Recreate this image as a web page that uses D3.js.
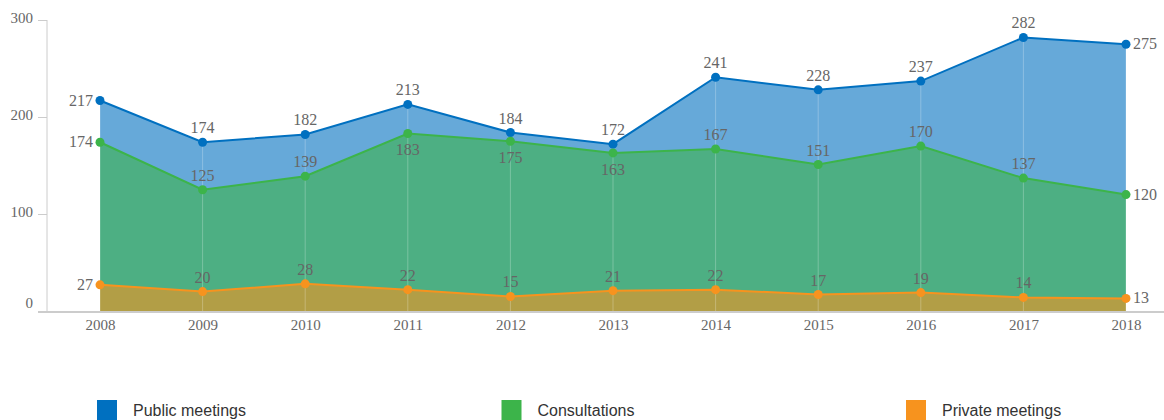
<!DOCTYPE html>
<head>
<meta charset="utf-8">
<style>
body { margin: 0; background: #fff; }
svg { display: block; }
.tick text, .val { font-family: "Liberation Serif", "DejaVu Serif", serif; fill: #666; }
.legend text { font: 16px "Liberation Sans", Arial, sans-serif; fill: #333; }
</style>
</head>
<body>
<script src="https://d3js.org/d3.v7.min.js"></script>
<script>
  // data
  var years = ["2008","2009","2010","2011","2012","2013","2014","2015","2016","2017","2018"];
  var publicMeetings = [217, 174, 182, 213, 184, 172, 241, 228, 237, 282, 275];
  var consultations  = [174, 125, 139, 183, 175, 163, 167, 151, 170, 137, 120];
  var privateMeetings = [27, 20, 28, 22, 15, 21, 22, 17, 19, 14, 13];
  var yTicks = [0, 100, 200, 300];

  // label position for each consultations point
  var consultPos = ["left","up","up","down","down","down","up","up","up","up","right"];

  var series = [
    { name: "Public meetings", values: publicMeetings, color: "#0070c0" },
    { name: "Consultations",   values: consultations,  color: "#3cb44a" },
    { name: "Private meetings", values: privateMeetings, color: "#f7931e" }
  ];

  var width = 1164, height = 420;
  var svg = d3.select("body").append("svg")
      .attr("width", width)
      .attr("height", height);

  var x = d3.scalePoint().domain(years).range([100, 1126]);
  var y = d3.scaleLinear().domain([0, 300]).range([311, 20]);

  // y axis
  var yAxis = svg.append("g")
      .attr("transform", "translate(47,0)")
      .call(d3.axisLeft(y).tickValues(yTicks).tickSize(9).tickPadding(5));
  yAxis.attr("font-size", null);
  yAxis.select(".domain").attr("stroke", "#ccc").attr("d", "M0,20V312");
  yAxis.selectAll(".tick line").attr("stroke", "#ccc");
  yAxis.selectAll(".tick text").style("font-size", "15px").attr("dy", "0.15em");
  yAxis.selectAll(".tick").filter(function (d) { return d === 0; })
      .select("text").attr("dy", "-0.25em");

  // x axis
  var xAxis = svg.append("g")
      .attr("transform", "translate(0,312)")
      .call(d3.axisBottom(x).tickSize(0).tickPadding(7));
  xAxis.attr("font-size", null);
  xAxis.select(".domain").remove();
  xAxis.selectAll(".tick text").style("font-size", "15px");
  svg.append("line")
      .attr("x1", 38).attr("x2", width)
      .attr("y1", 312).attr("y2", 312)
      .attr("stroke", "#ccc").attr("stroke-width", 2);

  // areas, each from zero (not stacked)
  series.forEach(function (s) {
    var area = d3.area()
        .x(function (d, i) { return x(years[i]); })
        .y0(y(0))
        .y1(function (d) { return y(d); });
    svg.append("path")
        .attr("d", area(s.values))
        .attr("fill", s.color)
        .attr("fill-opacity", 0.6);
  });

  // faint vertical guide lines
  svg.append("g").selectAll("line")
    .data(years)
    .join("line")
      .attr("x1", function (d) { return x(d); })
      .attr("x2", function (d) { return x(d); })
      .attr("y1", function (d, i) { return y(publicMeetings[i]); })
      .attr("y2", y(0))
      .attr("stroke", "#fff")
      .attr("stroke-opacity", 0.25);

  // lines and dots
  series.forEach(function (s) {
    var line = d3.line()
        .x(function (d, i) { return x(years[i]); })
        .y(function (d) { return y(d); });
    svg.append("path")
        .attr("d", line(s.values))
        .attr("fill", "none")
        .attr("stroke", s.color)
        .attr("stroke-width", 2);
    svg.append("g").selectAll("circle")
      .data(s.values)
      .join("circle")
        .attr("cx", function (d, i) { return x(years[i]); })
        .attr("cy", function (d) { return y(d); })
        .attr("r", 4.5)
        .attr("fill", s.color);
  });

  // value labels
  function labelPos(si, i) {
    if (i === 0) return "left";
    if (i === years.length - 1) return "right";
    if (si === 1) return consultPos[i];
    return "up";
  }
  series.forEach(function (s, si) {
    svg.append("g").selectAll("text")
      .data(s.values)
      .join("text")
        .attr("class", "val")
        .style("font-size", "16px")
        .each(function (d, i) {
          var p = labelPos(si, i), px = x(years[i]), py = y(d);
          var t = d3.select(this).text(d);
          if (p === "left") t.attr("x", px - 7).attr("y", py + 5).attr("text-anchor", "end");
          else if (p === "right") t.attr("x", px + 7).attr("y", py + 5).attr("text-anchor", "start");
          else if (p === "down") t.attr("x", px).attr("y", py + 22).attr("text-anchor", "middle");
          else t.attr("x", px).attr("y", py - 9).attr("text-anchor", "middle");
        });
  });

  // legend
  var legend = svg.append("g").attr("class", "legend")
    .selectAll("g")
    .data(series)
    .join("g")
      .attr("transform", function (d, i) { return "translate(" + (97 + i * 404.5) + ",400)"; });
  legend.append("rect")
      .attr("width", 20).attr("height", 20)
      .attr("fill", function (d) { return d.color; });
  legend.append("text")
      .attr("x", 36).attr("y", 16)
      .text(function (d) { return d.name; });
</script>
</body>
